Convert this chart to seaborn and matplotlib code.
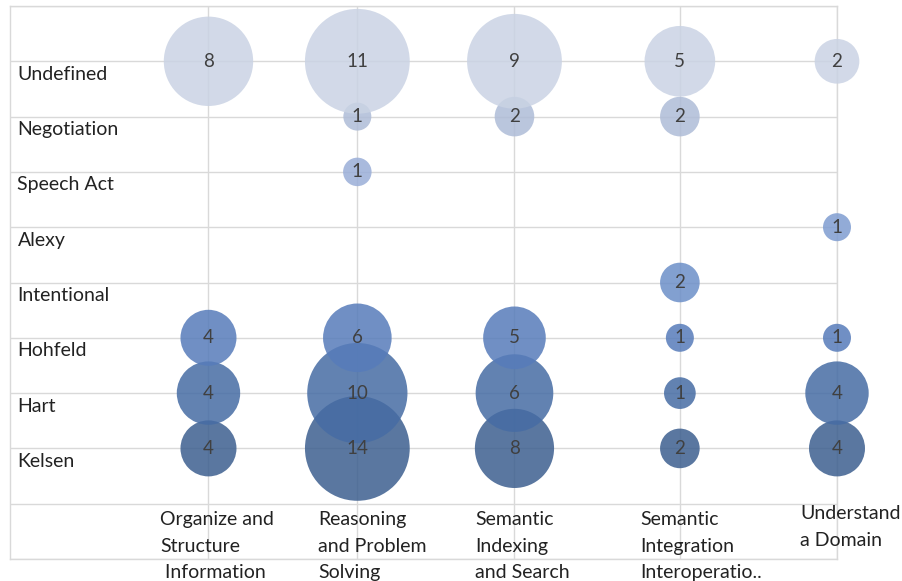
import numpy as np
import pandas as pd
import matplotlib
matplotlib.use("Agg")
import matplotlib.pyplot as plt
import matplotlib.colors as mcolors
import seaborn as sns

# categories / series
tasks = [
    "Organize and\nStructure\n Information",
    "Reasoning\nand Problem\nSolving",
    "Semantic\nIndexing\nand Search",
    "Semantic\nIntegration\nInteroperatio..",
    "Understand\na Domain",
]
theories = ["Kelsen", "Hart", "Hohfeld", "Intentional", "Alexy",
            "Speech Act", "Negotiation", "Undefined"]

# counts per theory, one value per task (0 = no bubble)
kelsen = [4, 14, 8, 2, 4]
hart = [4, 10, 6, 1, 4]
hohfeld = [4, 6, 5, 1, 1]
intentional = [0, 0, 0, 2, 0]
alexy = [0, 0, 0, 0, 1]
speech_act = [0, 1, 0, 0, 0]
negotiation = [0, 1, 2, 2, 0]
undefined = [8, 11, 9, 5, 2]

counts = [kelsen, hart, hohfeld, intentional, alexy,
          speech_act, negotiation, undefined]

# layout: where each task column sits on the x axis (0..5)
task_pos = [1.2, 2.1, 3.05, 4.05, 5.0]
label_dx = [-48, -39, -39, -40, -37]  # px, label left edge vs bubble centre
# bubble diameter (px) per sqrt(count); each series was scaled on its own
row_scale = [28.0, 31.7, 28.0, 28.0, 28.0, 28.5, 28.0, 31.6]

# apparent colours on white, bottom row to top row
shown_colors = ["#5a77a0", "#6282b2", "#7090c4", "#82a0d0", "#92acd8",
                "#a9bade", "#bac6dd", "#d2dae8"]
ALPHA = 0.85
GRID = "#d9d9d9"
TXT = "#222222"


def base_color(hexcol, alpha=ALPHA):
    rgb = np.array(mcolors.to_rgb(hexcol))
    return tuple(np.clip(1 - (1 - rgb) / alpha, 0, 1))


rows = []
for ti, theory in enumerate(theories):
    for ki in range(len(tasks)):
        v = counts[ti][ki]
        if v > 0:
            area = (row_scale[ti] * 0.72) ** 2 * v  # points^2
            rows.append({"x": task_pos[ki], "theory": theory, "y": ti + 2,
                         "count": v, "area": area})
df = pd.DataFrame(rows)

sns.set_style("white")
plt.rcParams["font.family"] = ["Lato", "DejaVu Sans"]

fig = plt.figure(figsize=(9.03, 5.81), dpi=100)
ax = fig.add_axes([10 / 903, 22 / 581, 827 / 903, 553 / 581])

palette = {t: base_color(c) for t, c in zip(theories, shown_colors)}
amax = df["area"].max()

sns.scatterplot(data=df, x="x", y="y", hue="theory", palette=palette,
                size="area", sizes=(0, amax), size_norm=(0, amax),
                alpha=ALPHA, linewidth=0, legend=False, ax=ax, zorder=3)
for coll in ax.collections:
    coll.set_clip_on(False)

for _, r in df.iterrows():
    ax.text(r["x"], r["y"], str(r["count"]), ha="center", va="center",
            fontsize=13.5, color="#404040", zorder=5)

ax.set_xlim(0, 5)
ax.set_ylim(0, 10)
ax.set_xticks(task_pos)
ax.set_yticks(range(11))
ax.tick_params(labelleft=False, labelbottom=False, length=0)
ax.grid(True, color=GRID, linewidth=1)
ax.set_axisbelow(True)
ax.set_xlabel("")
ax.set_ylabel("")
for sp in ax.spines.values():
    sp.set_color(GRID)
    sp.set_linewidth(1)

# row labels
for ti, theory in enumerate(theories):
    ax.annotate(theory, xy=(0.009, ti + 2), xycoords=ax.get_yaxis_transform(),
                xytext=(0, -13), textcoords="offset pixels",
                ha="left", va="center", fontsize=14, color=TXT)

# task labels below the bubbles
for ki, task in enumerate(tasks):
    top = 0.97 if ki == 4 else 0.87
    ax.annotate(task, xy=(task_pos[ki], top), xycoords="data",
                xytext=(label_dx[ki], 0), textcoords="offset pixels",
                ha="left", va="top", fontsize=14, color=TXT,
                linespacing=1.7, annotation_clip=False)

fig.savefig("out.png", dpi=100)
